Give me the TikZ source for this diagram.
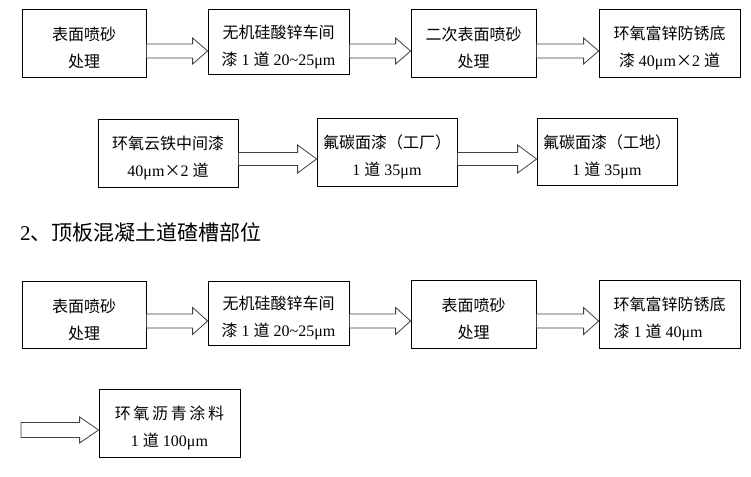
\documentclass[tikz,border=0pt]{standalone}
\usepackage{fontspec}
\setmainfont{Liberation Serif}
\newfontfamily\cjk{Noto Sans CJK SC}
\usetikzlibrary{calc}
\newcommand\zh[1]{{\cjk #1}}
\newcommand\blockarrow[6]{%
  \draw[barrow] let \p1=(#1 |- 0,#3), \p2=(#2 |- 0,#3) in
    (\x1,\y1+#4pt) -- (\x2-#6pt,\y1+#4pt) -- (\x2-#6pt,\y1+#5pt) -- (\x2,\y2)
    -- (\x2-#6pt,\y1-#5pt) -- (\x2-#6pt,\y1-#4pt) -- (\x1,\y1-#4pt) -- cycle;}
\newcommand\tp{\rule{0pt}{24pt}}
\begin{document}
\begin{tikzpicture}[x=1pt,y=-1pt,
  box/.style={draw=black, line width=0.8pt, fill=white, inner sep=0pt,
    align=center, font=\fontsize{16}{27}\selectfont},
  barrow/.style={draw=black!75, line width=0.8pt, fill=white, line join=miter},
  title/.style={anchor=west, inner sep=0pt, font=\fontsize{21}{24}\selectfont}]
\useasboundingbox (0,0) rectangle (751,476);
% row 1
\node[box, minimum width=124pt, minimum height=68pt] (A) at (84,43) {\tp\zh{表面喷砂}\\\zh{处理}};
\node[box, minimum width=141pt, minimum height=65pt] (B) at (278.5,41.5) {\tp\zh{无机硅酸锌车间}\\\zh{漆} 1 \zh{道} 20\textasciitilde25μm};
\node[box, minimum width=125pt, minimum height=68pt] (C) at (473.5,43) {\tp\zh{二次表面喷砂}\\\zh{处理}};
\node[box, minimum width=141pt, minimum height=68pt] (D) at (669.5,43) {\tp\zh{环氧富锌防锈底}\\\zh{漆} 40μm\zh{×}2 \zh{道}};
% row 2
\node[box, minimum width=140pt, minimum height=68pt] (E) at (168,153) {\tp\zh{环氧云铁中间漆}\\40μm\zh{×}2 \zh{道}};
\node[box, minimum width=140pt, minimum height=68pt] (F) at (387,152) {\tp\zh{氟碳面漆（工厂）}\\1 \zh{道} 35μm};
\node[box, minimum width=140pt, minimum height=67pt] (G) at (607,151.5) {\tp\zh{氟碳面漆（工地）}\\1 \zh{道} 35μm};
% title
\node[title] (T) at (20,232) {2\zh{、顶板混凝土道碴槽部位}};
% row 3
\node[box, minimum width=124pt, minimum height=67pt] (H) at (84,314.5) {\tp\zh{表面喷砂}\\\zh{处理}};
\node[box, minimum width=141pt, minimum height=64pt] (I) at (278.5,313) {\tp\zh{无机硅酸锌车间}\\\zh{漆} 1 \zh{道} 20\textasciitilde25μm};
\node[box, minimum width=125pt, minimum height=68pt] (J) at (473.5,314) {\tp\zh{表面喷砂}\\\zh{处理}};
\node[box, minimum width=141pt, minimum height=68pt, align=left] (K) at (669.5,314) {\tp\zh{环氧富锌防锈底}\\\zh{漆} 1 \zh{道} 40μm};
% row 4
\node[box, minimum width=141pt, minimum height=68pt] (L) at (169.5,423) {\tp\zh{环\,氧\,沥\,青\,涂\,料}\\1 \zh{道} 100μm};
\coordinate (s) at (21,430);
% arrows
\blockarrow{A.east}{B.west}{51}{7}{13}{15}
\blockarrow{B.east}{C.west}{51}{7}{13}{15}
\blockarrow{C.east}{D.west}{51}{7}{13}{15}
\blockarrow{E.east}{F.west}{159}{6.5}{14}{19}
\blockarrow{F.east}{G.west}{159}{6.5}{14}{19}
\blockarrow{H.east}{I.west}{321}{7}{13.5}{15}
\blockarrow{I.east}{J.west}{321}{7}{13.5}{15}
\blockarrow{J.east}{K.west}{321}{7}{13.5}{15}
\blockarrow{s}{L.west}{430}{7.5}{13}{19}
\end{tikzpicture}
\end{document}
